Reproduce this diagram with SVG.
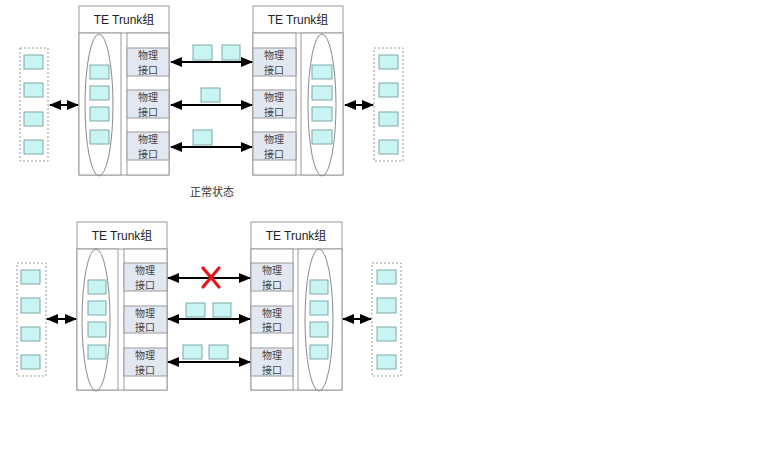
<svg xmlns="http://www.w3.org/2000/svg" width="768" height="460" viewBox="0 0 768 460">
<style>
.box{fill:#fff;stroke:#9a9a9a;stroke-width:1}
.ifc{fill:#e1e8f1;stroke:#9a9a9a;stroke-width:1}
.sq{fill:#c9f4f4;stroke:#7fa8a8;stroke-width:1}
.dash{fill:none;stroke:#999;stroke-width:1;stroke-dasharray:2,2}
.ell{fill:none;stroke:#8a8a8a;stroke-width:1}
.ttl{font-family:"Liberation Sans","Noto Sans CJK SC",sans-serif;font-size:12px;fill:#222;text-anchor:middle}
.cn{font-family:"Noto Sans CJK SC",sans-serif;font-size:10px;fill:#444;text-anchor:middle}
.ln{stroke:#000;stroke-width:2;fill:none;marker-start:url(#ah);marker-end:url(#ah)}
</style>
<defs>
<marker id="ah" markerUnits="userSpaceOnUse" markerWidth="12" markerHeight="10" refX="11" refY="5" orient="auto-start-reverse" viewBox="0 0 12 10">
<path d="M0,0 L12,5 L0,10 Z" fill="#000"/>
</marker>
</defs>
<rect width="768" height="460" fill="#fff"/>

<!-- ===== Top: normal state ===== -->
<g id="top-left-hosts">
<rect class="dash" x="20" y="48" width="28" height="113"/>
<rect class="sq" x="24" y="55" width="19" height="14"/>
<rect class="sq" x="24" y="83" width="19" height="14"/>
<rect class="sq" x="24" y="112" width="19" height="14"/>
<rect class="sq" x="24" y="140" width="19" height="14"/>
</g>
<g id="top-left-trunk">
<rect class="box" x="79" y="6" width="90" height="169"/>
<line x1="79" y1="33" x2="169" y2="33" stroke="#9a9a9a"/>
<text class="ttl" x="124" y="24">TE Trunk组</text>
<rect class="box" x="79" y="33" width="42" height="142"/>
<rect class="box" x="127" y="33" width="42" height="142"/>
<ellipse class="ell" cx="99" cy="105" rx="14" ry="71"/>
<rect class="sq" x="90" y="65" width="19" height="14"/>
<rect class="sq" x="90" y="86" width="19" height="14"/>
<rect class="sq" x="90" y="107" width="19" height="14"/>
<rect class="sq" x="90" y="130" width="19" height="14"/>
<rect class="ifc" x="127" y="48" width="42" height="28"/>
<text class="cn" x="148" y="59">物理</text><text class="cn" x="148" y="73.5">接口</text>
<rect class="ifc" x="127" y="90" width="42" height="28"/>
<text class="cn" x="148" y="101">物理</text><text class="cn" x="148" y="115.5">接口</text>
<rect class="ifc" x="127" y="132" width="42" height="28"/>
<text class="cn" x="148" y="143">物理</text><text class="cn" x="148" y="157.5">接口</text>
</g>
<g id="top-right-trunk">
<rect class="box" x="253" y="6" width="90" height="169"/>
<line x1="253" y1="33" x2="343" y2="33" stroke="#9a9a9a"/>
<text class="ttl" x="298" y="24">TE Trunk组</text>
<rect class="box" x="253" y="33" width="43" height="142"/>
<rect class="box" x="301" y="33" width="42" height="142"/>
<ellipse class="ell" cx="322" cy="105" rx="14" ry="71"/>
<rect class="sq" x="312" y="65" width="20" height="14"/>
<rect class="sq" x="312" y="86" width="20" height="14"/>
<rect class="sq" x="312" y="107" width="20" height="14"/>
<rect class="sq" x="312" y="130" width="20" height="14"/>
<rect class="ifc" x="253" y="48" width="43" height="28"/>
<text class="cn" x="274" y="59">物理</text><text class="cn" x="274" y="73.5">接口</text>
<rect class="ifc" x="253" y="90" width="43" height="28"/>
<text class="cn" x="274" y="101">物理</text><text class="cn" x="274" y="115.5">接口</text>
<rect class="ifc" x="253" y="132" width="43" height="28"/>
<text class="cn" x="274" y="143">物理</text><text class="cn" x="274" y="157.5">接口</text>
</g>
<g id="top-right-hosts">
<rect class="dash" x="374" y="48" width="29" height="113"/>
<rect class="sq" x="379" y="55" width="19" height="14"/>
<rect class="sq" x="379" y="83" width="19" height="14"/>
<rect class="sq" x="379" y="112" width="19" height="14"/>
<rect class="sq" x="379" y="140" width="19" height="14"/>
</g>
<g id="top-packets">
<rect class="sq" x="193" y="45" width="19" height="15"/>
<rect class="sq" x="222" y="45" width="18" height="15"/>
<rect class="sq" x="201" y="88" width="19" height="14"/>
<rect class="sq" x="193" y="130" width="19" height="15"/>
</g>
<text id="top-label" x="212" y="196" font-family="'Noto Sans CJK SC',sans-serif" font-size="11" fill="#333" text-anchor="middle">正常状态</text>

<!-- ===== Bottom: failure state ===== -->
<g id="bot-left-hosts">
<rect class="dash" x="17" y="263" width="29" height="113"/>
<rect class="sq" x="21" y="270" width="19" height="14"/>
<rect class="sq" x="21" y="298" width="19" height="15"/>
<rect class="sq" x="21" y="327" width="19" height="14"/>
<rect class="sq" x="21" y="355" width="19" height="14"/>
</g>
<g id="bot-left-trunk">
<rect class="box" x="77" y="222" width="90" height="168"/>
<line x1="77" y1="249" x2="167" y2="249" stroke="#9a9a9a"/>
<text class="ttl" x="122" y="240">TE Trunk组</text>
<rect class="box" x="77" y="249" width="41" height="141"/>
<rect class="box" x="124" y="249" width="43" height="141"/>
<ellipse class="ell" cx="96" cy="320" rx="14" ry="71"/>
<rect class="sq" x="88" y="280" width="18" height="14"/>
<rect class="sq" x="88" y="301" width="18" height="14"/>
<rect class="sq" x="88" y="322" width="18" height="15"/>
<rect class="sq" x="88" y="345" width="18" height="14"/>
<rect class="ifc" x="124" y="263" width="43" height="28"/>
<text class="cn" x="145" y="274">物理</text><text class="cn" x="145" y="288.5">接口</text>
<rect class="ifc" x="124" y="306" width="43" height="27"/>
<text class="cn" x="145" y="316.5">物理</text><text class="cn" x="145" y="331">接口</text>
<rect class="ifc" x="124" y="348" width="43" height="28"/>
<text class="cn" x="145" y="359">物理</text><text class="cn" x="145" y="373.5">接口</text>
</g>
<g id="bot-right-trunk">
<rect class="box" x="251" y="222" width="91" height="168"/>
<line x1="251" y1="249" x2="342" y2="249" stroke="#9a9a9a"/>
<text class="ttl" x="296" y="240">TE Trunk组</text>
<rect class="box" x="251" y="249" width="42" height="141"/>
<rect class="box" x="298" y="249" width="44" height="141"/>
<ellipse class="ell" cx="319" cy="320" rx="14" ry="71"/>
<rect class="sq" x="310" y="280" width="18" height="14"/>
<rect class="sq" x="310" y="301" width="18" height="14"/>
<rect class="sq" x="310" y="322" width="18" height="15"/>
<rect class="sq" x="310" y="345" width="18" height="14"/>
<rect class="ifc" x="251" y="263" width="42" height="28"/>
<text class="cn" x="272" y="274">物理</text><text class="cn" x="272" y="288.5">接口</text>
<rect class="ifc" x="251" y="306" width="42" height="27"/>
<text class="cn" x="272" y="316.5">物理</text><text class="cn" x="272" y="331">接口</text>
<rect class="ifc" x="251" y="348" width="42" height="28"/>
<text class="cn" x="272" y="359">物理</text><text class="cn" x="272" y="373.5">接口</text>
</g>
<g id="bot-right-hosts">
<rect class="dash" x="372" y="263" width="29" height="113"/>
<rect class="sq" x="377" y="270" width="19" height="14"/>
<rect class="sq" x="377" y="298" width="19" height="15"/>
<rect class="sq" x="377" y="327" width="19" height="14"/>
<rect class="sq" x="377" y="355" width="19" height="14"/>
</g>
<g id="bot-packets">
<rect class="sq" x="186" y="303" width="19" height="14"/>
<rect class="sq" x="213" y="303" width="18" height="14"/>
<rect class="sq" x="183" y="345" width="19" height="14"/>
<rect class="sq" x="209" y="345" width="19" height="14"/>
</g>

<g id="connectors">
<line class="ln" x1="50" y1="105" x2="78" y2="105"/>
<line class="ln" x1="171" y1="62" x2="252" y2="62"/>
<line class="ln" x1="171" y1="105" x2="252" y2="105"/>
<line class="ln" x1="171" y1="147" x2="252" y2="147"/>
<line class="ln" x1="345" y1="105" x2="373" y2="105"/>
<line class="ln" x1="47" y1="319" x2="76" y2="319"/>
<line class="ln" x1="168" y1="278" x2="250" y2="278"/>
<line class="ln" x1="168" y1="319" x2="250" y2="319"/>
<line class="ln" x1="168" y1="362" x2="250" y2="362"/>
<line class="ln" x1="343" y1="319" x2="371" y2="319"/>
</g>
<g id="fault-mark" stroke="#e8141a" stroke-width="3.2" stroke-linecap="round">
<line x1="203" y1="268" x2="219" y2="287"/>
<line x1="219" y1="268" x2="203" y2="287"/>
</g>
</svg>
